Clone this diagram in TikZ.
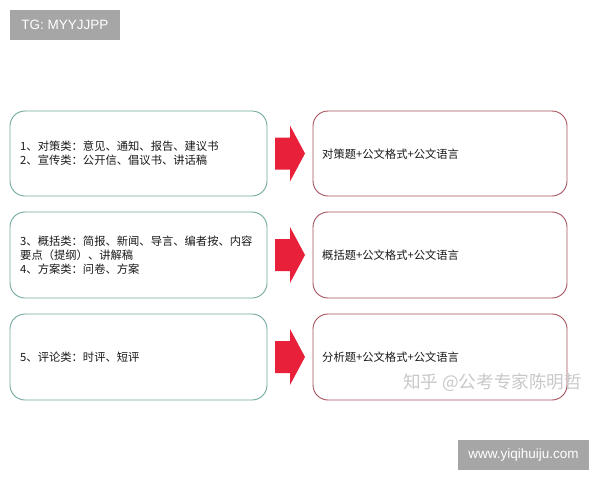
\documentclass[tikz,border=0pt]{standalone}
\usepackage{fontspec}
\setmainfont{Liberation Sans}
\newfontfamily\cjk{Noto Sans CJK SC}
\definecolor{leftbd}{HTML}{6FA69D}
\definecolor{rightbd}{HTML}{A4515B}
\definecolor{arrred}{HTML}{E8203A}
\definecolor{tagbg}{HTML}{A6A6A6}
\definecolor{wmark}{HTML}{C8C8C8}
\tikzset{
  leftbox/.style={draw=leftbd, line width=0.9pt, rounded corners=15pt},
  rightbox/.style={draw=rightbd, line width=0.9pt, rounded corners=15pt},
  boxtext/.style={anchor=west, align=left, font=\cjk\fontsize{11.3}{14}\selectfont, text=black!90, inner sep=0pt},
  bigarrow/.style={fill=arrred, draw=none},
  tag/.style={fill=tagbg, text=white, inner sep=0pt}
}
\begin{document}
\begin{tikzpicture}[x=1pt,y=-1pt]
\useasboundingbox (0,0) rectangle (600,480);
% tag
\node[tag, minimum width=110pt, minimum height=30pt, font=\fontsize{13.5}{15}\selectfont] (tg) at (65,25) {TG: MYYJJPP};
% left boxes
\draw[leftbox] (10,111) rectangle (267,196);
\draw[leftbox] (10,212) rectangle (267,298);
\draw[leftbox] (10,314) rectangle (267,400);
% right boxes
\draw[rightbox] (313,111) rectangle (567,196);
\draw[rightbox] (313,212) rectangle (567,298);
\draw[rightbox] (313,314) rectangle (567,400);
% arrows
\foreach \c in {153.5,255,357}{
  \fill[bigarrow] (275,\c-16) -- (290,\c-16) -- (290,\c-28) -- (305,\c) -- (290,\c+28) -- (290,\c+16) -- (275,\c+16) -- cycle;
}
% texts
\node[boxtext] (l1) at (20,153.5) {1、对策类：意见、通知、报告、建议书\\2、宣传类：公开信、倡议书、讲话稿};
\node[boxtext] (l2) at (20,255) {3、概括类：简报、新闻、导言、编者按、内容\\要点（提纲）、讲解稿\\4、方案类：问卷、方案};
\node[boxtext] (l3) at (20,357) {5、评论类：时评、短评};
\node[boxtext] (r1) at (322,154) {对策题+公文格式+公文语言};
\node[boxtext] (r2) at (322,255) {概括题+公文格式+公文语言};
\node[boxtext] (r3) at (322,357) {分析题+公文格式+公文语言};
% watermark
\node[anchor=west, inner sep=0pt, text=wmark, font=\cjk\fontsize{17.6}{20}\selectfont] (wm) at (403,383) {知乎 @公考专家陈明哲};
% site tag
\node[tag, minimum width=131pt, minimum height=30pt, font=\fontsize{13.5}{15}\selectfont] (site) at (523.5,455) {www.yiqihuiju.com};
\end{tikzpicture}
\end{document}
